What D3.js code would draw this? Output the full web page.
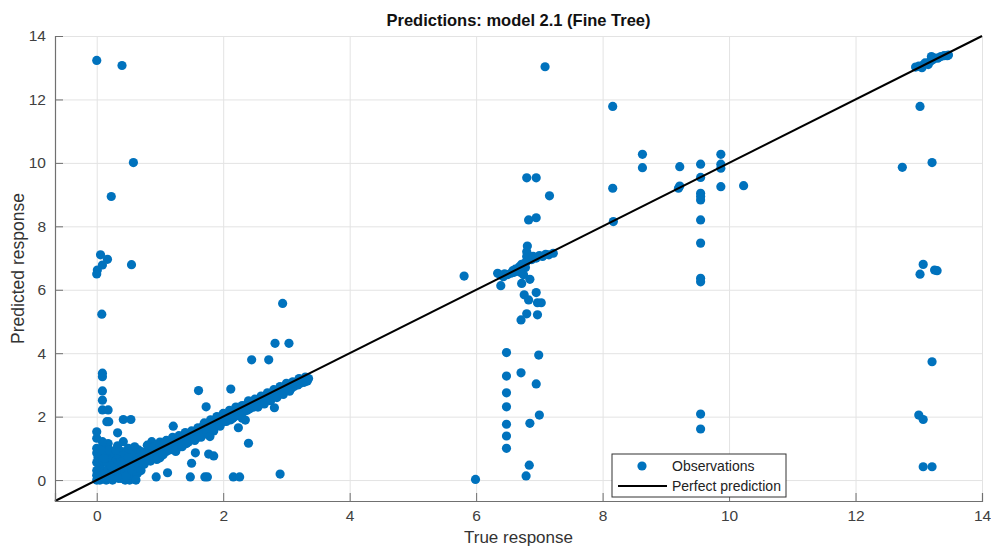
<!DOCTYPE html>
<html>
<head>
<meta charset="utf-8">
<script src="https://cdn.jsdelivr.net/npm/d3@7"></script>
<style>
  body { margin: 0; background: #fff; }
  text { font-family: "Liberation Sans", Arial, sans-serif; }
</style>
</head>
<body>
<svg width="991" height="549"></svg>
<script>
// tick values
const xTicks = [0, 2, 4, 6, 8, 10, 12, 14]
const yTicks = [0, 2, 4, 6, 8, 10, 12, 14]

// observations as [true, predicted] pairs
const lowBlob = [
  [0, 0], [0.02, 0.05], [0.05, 0.1], [0.03, 0.2], [0.08, 0.15], [0.1, 0.3], [0.12, 0.05], [0.15, 0.2],
  [0.18, 0.35], [0.2, 0.1], [0.22, 0.25], [0.25, 0.4], [0.28, 0.15], [0.3, 0.3], [0.32, 0.5], [0.35, 0.2],
  [0.38, 0.35], [0.4, 0.05], [0.42, 0.45], [0.45, 0.25], [0.48, 0.6], [0.5, 0.35], [0.52, 0.5], [0.55, 0.15],
  [0.58, 0.7], [0.6, 0.4], [0.62, 0.55], [0.65, 0.75], [0.68, 0.45], [0.7, 0.65], [0.05, 0.45], [0, 0.55],
  [0.02, 0.7], [0.08, 0.8], [0.1, 0.6], [0.13, 0.9], [0.16, 0.55], [0.2, 0.75], [0.24, 0.65], [0.27, 0.85],
  [0.3, 0.6], [0.35, 0.75], [0.4, 0.9], [0.45, 0.8], [0.5, 1.0], [0.55, 0.85], [0.6, 1.05], [0, 0.3],
  [0, 0.15], [0.05, 0], [0.15, 0], [0.25, 0], [0.35, 0.05], [0.45, 0], [0.52, 0], [0.6, 0.1],
  [0.1, 1.05], [0.18, 1.15], [0, 0.85], [0, 1.0], [0.09, 1.21], [0.33, 1.08], [0.42, 1.21], [0, 1.32],
  [0.22, 0.45], [0.12, 0.68], [0.38, 0.58], [0.28, 0.38], [0.46, 0.12], [0.56, 0.3], [0.64, 0.2],
  [0.06, 0.95], [0.2, 0.95], [0.3, 0.95], [0.5, 0.7], [0.66, 0.95], [0.7, 0.3], [0.62, 0.0]
]

const nearZero = [
  [0, 13.23], [0.4, 13.07], [0.58, 10.01], [0.23, 8.94], [0.06, 7.1], [0.17, 6.96], [0.09, 6.78],
  [0.01, 6.62], [0, 6.5], [0.55, 6.79], [0.08, 5.23], [0.09, 3.37], [0.09, 3.26], [0.09, 2.81],
  [0.09, 2.52], [0.09, 2.21], [0.18, 2.21], [0.16, 1.84], [0.19, 1.84], [0.42, 1.91], [0.54, 1.91],
  [0, 1.52], [0.33, 1.49]
]

const band = [
  [0.72, 0.6], [0.75, 0.8], [0.78, 0.7], [0.8, 0.9], [0.82, 0.65], [0.85, 0.85], [0.88, 0.95], [0.9, 0.75],
  [0.93, 1.0], [0.95, 0.85], [0.98, 0.95], [1.0, 1.05], [1.02, 0.85], [1.05, 1.0], [1.08, 1.1], [1.1, 0.9],
  [1.12, 1.05], [1.15, 1.2], [1.18, 1.0], [1.2, 1.15], [1.22, 1.3], [1.25, 1.1], [1.28, 1.25], [1.3, 1.05],
  [1.32, 1.35], [1.35, 1.2], [1.38, 1.3], [1.4, 1.4], [1.42, 1.15], [1.45, 1.35], [1.48, 1.45], [1.5, 1.3],
  [1.52, 1.5], [1.55, 1.4], [1.58, 1.55], [1.6, 1.35], [1.62, 1.6], [1.65, 1.5], [1.68, 1.7], [1.7, 1.45],
  [1.72, 1.65], [1.75, 1.75], [1.78, 1.6], [1.8, 1.8], [1.82, 1.7], [1.85, 1.55], [1.88, 1.85], [1.9, 1.75],
  [1.92, 1.95], [1.95, 1.8], [1.98, 1.9], [2.0, 2.0], [2.02, 1.85], [2.05, 2.05], [2.08, 1.95], [2.1, 2.1],
  [2.12, 1.9], [2.15, 2.15], [2.18, 2.0], [2.2, 2.2], [2.22, 2.05], [2.25, 2.25], [2.28, 2.1], [2.3, 2.25],
  [2.32, 2.15], [2.35, 2.35], [2.38, 2.2], [2.4, 2.4], [2.42, 2.25], [2.45, 2.4], [2.48, 2.3], [2.5, 2.45],
  [2.52, 2.35], [2.55, 2.5], [2.58, 2.4], [2.6, 2.55], [2.62, 2.45], [2.65, 2.6], [2.68, 2.5], [2.7, 2.65],
  [2.72, 2.55], [2.75, 2.7], [2.78, 2.6], [2.8, 2.75], [2.82, 2.65], [2.85, 2.8], [2.88, 2.7], [2.9, 2.85],
  [2.92, 2.75], [2.95, 2.88], [2.98, 2.8], [3.0, 2.92], [3.02, 2.85], [3.05, 2.97], [3.08, 2.9], [3.1, 3.0],
  [3.12, 2.95], [3.15, 3.05], [3.18, 3.0], [3.2, 3.1], [3.22, 3.05], [3.25, 3.13], [3.28, 3.08], [3.3, 3.18],
  [3.33, 3.12], [3.35, 3.2], [0.87, 1.21], [0.8, 1.1], [1.0, 0.7], [1.25, 0.9], [2.35, 1.89], [2.3, 1.95],
  [0.7, 0.9], [0.75, 0.5], [0.85, 0.6], [0.9, 1.05], [0.95, 0.65], [1.0, 1.2], [1.05, 0.8], [1.1, 1.25],
  [1.15, 0.95], [1.2, 1.35], [1.25, 0.95], [1.3, 1.4], [1.35, 1.05], [1.4, 1.5], [1.45, 1.2], [1.5, 1.55],
  [1.55, 1.25], [1.6, 1.65], [1.65, 1.35], [1.7, 1.8], [1.75, 1.5], [1.8, 1.9], [1.85, 1.65], [1.9, 2.0],
  [1.95, 1.7], [2.0, 2.1], [2.05, 1.85], [2.1, 2.2], [2.15, 1.95], [2.2, 2.3], [2.25, 2.05], [2.3, 2.35],
  [2.4, 2.5], [2.5, 2.55], [2.6, 2.65], [2.7, 2.75], [2.8, 2.85], [2.9, 2.95], [3.0, 3.05], [3.1, 3.1],
  [3.2, 3.2], [3.3, 3.25], [2.55, 2.3], [2.65, 2.4], [2.75, 2.5], [2.85, 2.6], [2.95, 2.7], [3.05, 2.8]
]

const bandOutliers = [
  [2.94, 5.57], [2.82, 4.31], [3.04, 4.31], [2.45, 3.79], [2.72, 3.79], [1.61, 2.82], [2.12, 2.87],
  [1.73, 2.31], [2.81, 2.28], [1.21, 1.7], [2.24, 1.65], [2.4, 1.16], [1.79, 1.37], [1.56, 0.86],
  [1.77, 0.82], [1.85, 0.76], [1.5, 0.53], [1.48, 0.1], [1.71, 0.1], [1.75, 0.1], [2.16, 0.1],
  [2.26, 0.1], [2.9, 0.19], [0.94, 0.1], [1.12, 0.23]
]

const midCluster = [
  [6.38, 6.47], [6.43, 6.41], [6.45, 6.5], [6.5, 6.48], [6.55, 6.52], [6.58, 6.6], [6.6, 6.55], [6.62, 6.65],
  [6.65, 6.6], [6.68, 6.72], [6.7, 6.65], [6.72, 6.8], [6.75, 6.75], [6.78, 6.85], [6.8, 6.9], [6.8, 7.05],
  [6.8, 7.2], [6.81, 7.38], [6.83, 6.95], [6.85, 7.0], [6.88, 6.95], [6.9, 7.05], [6.95, 7.0], [7.0, 7.08],
  [7.05, 7.05], [7.1, 7.12], [7.15, 7.1], [7.22, 7.15], [6.78, 6.7], [6.7, 6.55], [6.39, 6.13], [6.75, 6.47],
  [6.85, 6.33], [6.72, 6.2], [6.34, 6.52]
]

const midOutliers = [
  [5.81, 6.43], [6.83, 8.2], [6.95, 8.27], [6.8, 9.53], [6.95, 9.53], [7.16, 8.96], [7.09, 13.03],
  [6.76, 5.84], [6.83, 5.68], [6.95, 5.91], [6.97, 5.59], [7.03, 5.59], [6.8, 5.24], [6.97, 5.21],
  [6.71, 5.05], [6.48, 4.02], [6.99, 3.94], [6.48, 3.28], [6.71, 3.38], [6.95, 3.03], [6.48, 2.75],
  [6.48, 2.31], [7.0, 2.05], [6.85, 1.79], [6.48, 1.76], [6.48, 1.39], [6.48, 1.0], [6.84, 0.47],
  [6.79, 0.13], [5.99, 0.02]
]

const upperCluster = [
  [8.16, 11.78], [8.63, 10.27], [8.63, 9.85], [8.16, 9.2], [8.17, 8.15], [9.22, 9.88], [9.22, 9.27],
  [9.2, 9.2], [9.55, 9.96], [9.55, 9.54], [9.55, 9.04], [9.55, 8.94], [9.55, 8.83], [9.55, 8.2],
  [9.55, 7.47], [9.55, 6.36], [9.55, 6.25], [9.87, 10.27], [9.87, 9.96], [9.87, 9.83], [9.87, 9.25],
  [10.23, 9.28], [9.55, 2.08], [9.55, 1.61]
]

const topCluster = [
  [12.95, 13.02], [13.0, 13.05], [13.05, 13.0], [13.08, 13.1], [13.1, 13.15], [13.15, 13.1], [13.18, 13.2],
  [13.2, 13.35], [13.22, 13.25], [13.25, 13.3], [13.3, 13.3], [13.35, 13.35], [13.4, 13.38], [13.45, 13.38],
  [13.47, 13.4], [13.02, 11.78], [12.74, 9.86], [13.21, 10.01], [13.07, 6.8], [13.02, 6.49], [13.25, 6.62],
  [13.29, 6.6], [13.21, 3.73], [13.0, 2.05], [13.07, 1.91], [13.07, 0.42], [13.21, 0.42]
]

const observations = [].concat(lowBlob, nearZero, band, bandOutliers, midCluster, midOutliers, upperCluster, topCluster)

const svg = d3.select('svg')
const margin = {top: 36, right: 9, bottom: 48, left: 55}
const width = +svg.attr('width') - margin.left - margin.right
const height = +svg.attr('height') - margin.top - margin.bottom
const g = svg.append('g').attr('transform', 'translate(' + margin.left + ',' + margin.top + ')')

const x = d3.scaleLinear().domain([-0.66, 14]).range([0, width])
const y = d3.scaleLinear().domain([-0.66, 14]).range([height, 0])

// grid
g.append('g')
  .attr('transform', 'translate(0,' + height + ')')
  .call(d3.axisBottom(x).tickValues(xTicks).tickSize(-height).tickFormat(''))
  .call(s => s.select('.domain').remove())
  .selectAll('line').attr('stroke', '#e3e3e3')
g.append('g')
  .call(d3.axisLeft(y).tickValues(yTicks).tickSize(-width).tickFormat(''))
  .call(s => s.select('.domain').remove())
  .selectAll('line').attr('stroke', '#e3e3e3')

// points
g.append('g')
  .selectAll('circle')
  .data(observations)
  .enter().append('circle')
  .attr('cx', d => x(d[0]))
  .attr('cy', d => y(d[1]))
  .attr('r', 4.6)
  .attr('fill', '#0072BD')

// perfect prediction line
g.append('line')
  .attr('x1', x(-0.66)).attr('y1', y(-0.66))
  .attr('x2', x(14)).attr('y2', y(14))
  .attr('stroke', '#000')
  .attr('stroke-width', 2)

// axes
const xAxis = g.append('g')
  .attr('transform', 'translate(0,' + height + ')')
  .call(d3.axisBottom(x).tickValues(xTicks).tickSize(-8).tickPadding(9))
const yAxis = g.append('g')
  .call(d3.axisLeft(y).tickValues(yTicks).tickSize(-8).tickPadding(9))
;[xAxis, yAxis].forEach(a => {
  a.select('.domain').attr('stroke', '#707070').attr('stroke-width', 1.2)
  a.selectAll('line').attr('stroke', '#707070')
  a.selectAll('text').attr('fill', '#404040').style('font-size', '15.5px')
})

// title and labels
svg.append('text')
  .attr('x', margin.left + width / 2).attr('y', 26)
  .attr('text-anchor', 'middle')
  .attr('font-weight', 'bold')
  .style('font-size', '16.5px')
  .attr('fill', '#111')
  .text('Predictions: model 2.1 (Fine Tree)')
svg.append('text')
  .attr('x', margin.left + width / 2).attr('y', 543)
  .attr('text-anchor', 'middle')
  .style('font-size', '17px')
  .attr('fill', '#333')
  .text('True response')
svg.append('text')
  .attr('transform', 'translate(24,' + (margin.top + height / 2) + ') rotate(-90)')
  .attr('text-anchor', 'middle')
  .style('font-size', '17.5px')
  .attr('fill', '#333')
  .text('Predicted response')

// legend
const legend = svg.append('g').attr('transform', 'translate(612,454)')
legend.append('rect')
  .attr('width', 174).attr('height', 43)
  .attr('fill', '#fff').attr('stroke', '#333').attr('stroke-width', 1)
legend.append('circle')
  .attr('cx', 30).attr('cy', 12).attr('r', 4.6).attr('fill', '#0072BD')
legend.append('line')
  .attr('x1', 6).attr('x2', 55).attr('y1', 32).attr('y2', 32)
  .attr('stroke', '#000').attr('stroke-width', 2)
legend.append('text')
  .attr('x', 60).attr('y', 17)
  .style('font-size', '14px').attr('fill', '#222')
  .text('Observations')
legend.append('text')
  .attr('x', 60).attr('y', 37)
  .style('font-size', '14px').attr('fill', '#222')
  .text('Perfect prediction')
</script>
</body>
</html>
